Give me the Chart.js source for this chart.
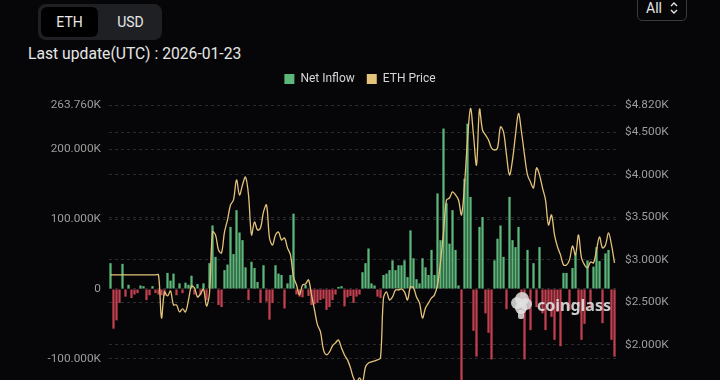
<!DOCTYPE html>
<html>
<head>
<meta charset="utf-8">
<script src="https://cdn.jsdelivr.net/npm/chart.js@4.4.1/dist/chart.umd.min.js"></script>
<style>
  html, body { margin: 0; padding: 0; background: #060608; width: 720px; height: 380px; overflow: hidden; font-family: Roboto, "Noto Sans", sans-serif; }
  .seg { position: absolute; left: 38px; top: 4px; width: 124px; height: 36px; background: #1f2024; border-radius: 8px; }
  .seg .eth { position: absolute; left: 3px; top: 3px; width: 57px; height: 30px; background: #000; border-radius: 6px; color: #e8e8e8; font-size: 14px; line-height: 30px; text-align: center; }
  .seg .usd { position: absolute; left: 64px; top: 3px; width: 57px; height: 30px; color: #e8e8e8; font-size: 14px; line-height: 30px; text-align: center; }
  .upd { position: absolute; left: 28px; top: 44px; color: #e6e6e6; font-size: 15.7px; white-space: nowrap; }
  .sel { position: absolute; left: 637px; top: -4px; width: 50px; height: 25px; border: 1px solid #3a3a3a; border-radius: 5px; box-sizing: border-box; color: #e6e6e6; font-size: 14px; }
  .sel span { position: absolute; left: 8px; top: 3px; }
  .sel svg { position: absolute; left: 31px; top: 4px; }
  #wrap { position: absolute; left: 0; top: 61px; width: 720px; height: 355px; }
  .wm { position: absolute; left: 510px; top: 290px; height: 30px; pointer-events: none; }
  .wm .txt { position: absolute; left: 27px; top: 4px; color: rgba(230,230,230,0.88); font-family: "Noto Sans", sans-serif; font-weight: 700; font-size: 16px; white-space: nowrap; }
  .wm svg { position: absolute; left: 0; top: 0; }
</style>
</head>
<body>
<div class="seg"><div class="eth">ETH</div><div class="usd">USD</div></div>
<div class="upd">Last update(UTC) : 2026-01-23</div>
<div class="sel"><span>All</span>
  <svg width="10" height="14" viewBox="0 0 10 14"><path d="M2 5 L5 2 L8 5 M2 9 L5 12 L8 9" stroke="#e6e6e6" stroke-width="1.4" fill="none"/></svg>
</div>
<div id="wrap"><canvas id="c" width="720" height="355"></canvas></div>
<div class="wm">
  <svg width="24" height="30" viewBox="0 0 24 30">
    <g fill="rgba(225,225,225,0.85)">
      <circle cx="12" cy="9" r="7"/><circle cx="7" cy="13" r="6"/><circle cx="16" cy="14" r="6"/>
      <circle cx="11" cy="18" r="6"/><rect x="8" y="20" width="6" height="9" rx="2"/>
    </g>
  </svg>
  <div class="txt">coinglass</div>
</div>
<script>
// Net inflow (thousand ETH), one bar per ~3 day bucket, Jul 2024 -> Jan 2026
const netInflow = [
  37, -57, -45, -20, 36, -11, 6, -13, -8, -6,
  5, 4, -16, -9, 4, -6, -8, -9, -10, 23,
  12, 22, -9, 8, -6, 9, 6, 19, -8, 7,
  -9, 8, -16, 37, 91, 46, -23, -26, 27, 35,
  89, 50, 113, 81, 70, 31, -16, 39, 30, 10,
  -20, 34, -18, -44, -20, 34, 22, 20, -28, 8,
  20, 108, -8, -11, -12, 6, -10, -23, -22, -20,
  -16, -14, -30, -26, -16, -8, 3, 4, -25, -12,
  -10, -20, -11, -8, 24, 37, 58, 8, 5, -11,
  -13, 20, 22, 27, 41, 27, 34, 34, 41, 17,
  84, 44, 14, 8, 44, 31, 20, 56, 20, 137,
  70, 230, 123, 65, 113, 56, 5, -135, 158, 237,
  132, -60, -97, 89, 103, -35, -63, -101, 41, 72,
  91, 46, -29, 132, 70, 60, 89, -25, -101, 56,
  -59, 37, -26, 60, -35, -59, -20, -40, -73, -33,
  -82, 23, 23, -30, 30, 51, -25, -73, -50, 41,
  -28, 32, 60, 40, -49, 51, 56, -73, -97
];
// ETH price (USD)
const ethPrice = [
  2823, 2823, 2823, 2823, 2823, 2823, 2823, 2823, 2823, 2823,
  2823, 2823, 2823, 2823, 2823, 2823, 2823, 2317, 2623, 2576,
  2635, 2470, 2470, 2388, 2423, 2388, 2529, 2693, 2670, 2564,
  2599, 2658, 2458, 2611, 3328, 3293, 3116, 3081, 3328, 3469,
  3645, 3704, 3939, 3763, 3880, 3974, 3763, 3293, 3445, 3351,
  3375, 3563, 3645, 3257, 3175, 3293, 3328, 3234, 3257, 3140,
  3058, 2799, 2705, 2588, 2705, 2717, 2764, 2588, 2411, 2235,
  2153, 1941, 1882, 1918, 1988, 2024, 2059, 1965, 1882, 1824,
  1730, 1612, 1565, 1612, 1565, 1741, 1788, 1800, 1812, 1824,
  1847, 2552, 2623, 2529, 2564, 2646, 2646, 2658, 2623, 2529,
  2682, 2670, 2564, 2494, 2317, 2435, 2494, 2552, 2588, 2705,
  2975, 3316, 3704, 3727, 3798, 3763, 3704, 3528, 3880, 4409,
  4780, 4468, 4115, 4770, 4526, 4468, 4409, 4315, 4291, 4315,
  4562, 4503, 4233, 3998, 4174, 4468, 4720, 4503, 4233, 3998,
  3915, 3845, 4080, 3998, 3845, 3704, 3410, 3528, 3293, 3152,
  3058, 2940, 2940, 2999, 3163, 3058, 3293, 3022, 2940, 2905,
  2975, 2964, 3116, 3269, 3140, 3175, 3316, 3175, 2964
];
const startDate = '2024-07-23';
const endDate = '2026-01-22';
const leftTicks = [-100, 0, 100, 200, 263.76];
const rightTicks = [2000, 2500, 3000, 3500, 4000, 4500, 4820];
const leftRange = [-159.1, 263.76];
const rightRange = [1353.5, 4820];
const seriesNames = ['Net Inflow', 'ETH Price'];

const t0 = Date.parse(startDate), t1 = Date.parse(endDate);
const categories = netInflow.map((_, i) =>
  new Date(t0 + (t1 - t0) * i / (netInflow.length - 1)).toISOString().slice(0, 10));

const GREEN = '#5cb77b', RED = '#c2404f', GOLD = '#e3c27a';
const tickColor = '#9c9c9c', gridColor = '#2a2a2d', legendText = '#d6d6d6';

const legendHeight = {
  id: 'legendHeight',
  beforeInit(chart) {
    const fit = chart.legend.fit;
    chart.legend.fit = function () { fit.call(this); this.height = 44; };
  }
};

new Chart(document.getElementById('c'), {
  data: {
    labels: categories,
    datasets: [
      {
        type: 'line', label: seriesNames[1], data: ethPrice, yAxisID: 'yR', order: 0,
        borderColor: GOLD, borderWidth: 1.3, pointRadius: 0, tension: 0.35, fill: false
      },
      {
        type: 'bar', label: seriesNames[0], data: netInflow, yAxisID: 'yL', order: 1,
        backgroundColor: ctx => (ctx.raw >= 0 ? GREEN : RED),
        barPercentage: 0.75, categoryPercentage: 1
      }
    ]
  },
  options: {
    responsive: false, animation: false, devicePixelRatio: 1,
    layout: { padding: 0 },
    plugins: {
      tooltip: { enabled: false },
      legend: {
        position: 'top',
        labels: {
          color: legendText, boxWidth: 10, boxHeight: 10, padding: 12,
          font: { family: 'Roboto', size: 12 },
          generateLabels: () => [
            { text: seriesNames[0], fillStyle: GREEN, strokeStyle: GREEN, fontColor: legendText, lineWidth: 0, datasetIndex: 1 },
            { text: seriesNames[1], fillStyle: GOLD, strokeStyle: GOLD, fontColor: legendText, lineWidth: 0, datasetIndex: 0 }
          ]
        }
      }
    },
    scales: {
      x: { type: 'category', display: false, offset: true, grid: { display: false } },
      yL: {
        type: 'linear', position: 'left', min: leftRange[0], max: leftRange[1],
        afterBuildTicks: s => { s.ticks = leftTicks.map(v => ({ value: v })); },
        afterFit: s => { s.width = 109; },
        ticks: {
          color: tickColor, padding: 8, font: { family: 'Roboto', size: 11.8 },
          callback: v => (v === 0 ? '0' : v.toFixed(3) + 'K')
        },
        grid: { color: gridColor, drawTicks: false, lineWidth: 1 },
        border: { display: false, dash: [3, 3] }
      },
      yR: {
        type: 'linear', position: 'right', min: rightRange[0], max: rightRange[1],
        afterBuildTicks: s => { s.ticks = rightTicks.map(v => ({ value: v })); },
        afterFit: s => { s.width = 104; },
        ticks: {
          color: tickColor, padding: 9, font: { family: 'Roboto', size: 11.8 },
          callback: v => '$' + (v / 1000).toFixed(3) + 'K'
        },
        grid: { color: gridColor, drawTicks: false, lineWidth: 1 },
        border: { display: false, dash: [3, 3] }
      }
    }
  },
  plugins: [legendHeight]
});
</script>
</body>
</html>
